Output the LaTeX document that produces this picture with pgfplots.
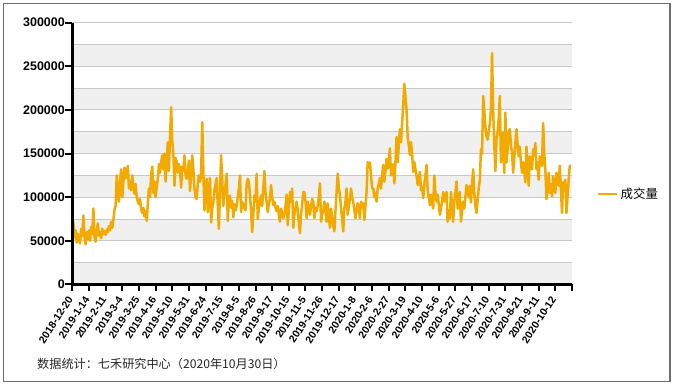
\documentclass[border=0pt]{standalone}
\usepackage{pgfplots}
\pgfplotsset{compat=1.18}
\usepackage{fontspec}
\setmainfont{Liberation Sans}
\newfontfamily\cjk{Noto Sans CJK SC}
\definecolor{lineor}{RGB}{242,169,0}
\definecolor{bandgray}{RGB}{240,240,240}
\definecolor{gridgray}{RGB}{200,200,200}
\definecolor{framegray}{RGB}{110,110,110}
\pgfplotsset{base/.style={at={(72.3bp,102.5bp)}, anchor=south west,
  scale only axis, width=499.7bp, height=261.8bp,
  xmin=0, xmax=450, ymin=0, ymax=300000}}
\begin{document}
\begin{tikzpicture}
\useasboundingbox (0,0) rectangle (674bp,387bp);
\draw[framegray, line width=1.1bp] (3.5bp,5.3bp) rectangle (670bp,383.5bp);
\begin{axis}[base, hide axis]
\fill[bandgray] (axis cs:0,0) rectangle (axis cs:450,25000);
\fill[bandgray] (axis cs:0,50000) rectangle (axis cs:450,75000);
\fill[bandgray] (axis cs:0,100000) rectangle (axis cs:450,125000);
\fill[bandgray] (axis cs:0,150000) rectangle (axis cs:450,175000);
\fill[bandgray] (axis cs:0,200000) rectangle (axis cs:450,225000);
\fill[bandgray] (axis cs:0,250000) rectangle (axis cs:450,275000);
\draw[gridgray, line width=1bp] (axis cs:0,25000) -- (axis cs:450,25000);
\draw[gridgray, line width=1bp] (axis cs:0,50000) -- (axis cs:450,50000);
\draw[gridgray, line width=1bp] (axis cs:0,75000) -- (axis cs:450,75000);
\draw[gridgray, line width=1bp] (axis cs:0,100000) -- (axis cs:450,100000);
\draw[gridgray, line width=1bp] (axis cs:0,125000) -- (axis cs:450,125000);
\draw[gridgray, line width=1bp] (axis cs:0,150000) -- (axis cs:450,150000);
\draw[gridgray, line width=1bp] (axis cs:0,175000) -- (axis cs:450,175000);
\draw[gridgray, line width=1bp] (axis cs:0,200000) -- (axis cs:450,200000);
\draw[gridgray, line width=1bp] (axis cs:0,225000) -- (axis cs:450,225000);
\draw[gridgray, line width=1bp] (axis cs:0,250000) -- (axis cs:450,250000);
\draw[gridgray, line width=1bp] (axis cs:0,275000) -- (axis cs:450,275000);
\draw[gridgray, line width=1bp] (axis cs:0,300000) -- (axis cs:450,300000);
\end{axis}
\begin{axis}[
  base, clip=false,
  axis x line*=bottom, axis y line*=left,
  axis line style={draw=none},
  xtick={0,15,...,435},
  xticklabels={2018-12-20,2019-1-14,2019-2-11,2019-3-4,2019-3-25,2019-4-16,2019-5-10,2019-5-31,2019-6-24,2019-7-15,2019-8-5,2019-8-26,2019-9-17,2019-10-15,2019-11-5,2019-11-26,2019-12-17,2020-1-8,2020-2-6,2020-2-27,2020-3-19,2020-4-10,2020-5-6,2020-5-27,2020-6-17,2020-7-10,2020-7-31,2020-8-21,2020-9-11,2020-10-12},
  ytick={0,50000,100000,150000,200000,250000,300000},
  yticklabels={0,50000,100000,150000,200000,250000,300000},
  scaled y ticks=false,
  xtick style={draw=none}, ytick style={draw=none},
  xticklabel shift=10bp,
  xticklabel style={font=\bfseries\fontsize{10.5}{12}\selectfont, rotate=57, anchor=east},
  yticklabel style={font=\bfseries\fontsize{12.5}{14}\selectfont, xshift=-4bp},
  legend style={at={(1.044,0.346)}, anchor=west, draw=none, fill=none, font=\fontsize{12.5}{14}\selectfont},
  legend image code/.code={\draw[#1, line width=2.5bp] (0bp,0bp) -- (14bp,0bp); \path (0bp,0bp) -- (19bp,0bp);},
]
\addplot[lineor, line width=2.5bp, line join=round, mark=none] coordinates {
(0,78000)(1,70000)(2,54000)(3,62000)(4,48000)(5,58000)(6,52000)(7,47000)(8,64000)(9,56000)(10,79000)(11,55000)(12,46000)(13,60000)(14,52000)
(15,62000)(16,50000)(17,66000)(18,58000)(19,87000)(20,55000)(21,49000)(22,62000)(23,70000)(24,56000)(25,60000)(26,53000)(27,64000)(28,58000)(29,61000)
(30,57000)(31,63000)(32,60000)(33,67000)(34,62000)(35,72000)(36,65000)(37,74000)(38,86000)(39,90000)(40,125000)(41,108000)(42,95000)(43,118000)(44,132000)
(45,100000)(46,118000)(47,134000)(48,122000)(49,128000)(50,136000)(51,110000)(52,118000)(53,108000)(54,125000)(55,112000)(56,104000)(57,115000)(58,100000)(59,95000)
(60,92000)(61,98000)(62,86000)(63,82000)(64,88000)(65,78000)(66,84000)(67,73000)(68,92000)(69,110000)(70,100000)(71,126000)(72,135000)(73,105000)(74,118000)
(75,100000)(76,112000)(77,120000)(78,138000)(79,128000)(80,140000)(81,148000)(82,132000)(83,150000)(84,118000)(85,142000)(86,163000)(87,130000)(88,170000)(89,203000)
(90,165000)(91,150000)(92,113000)(93,145000)(94,140000)(95,128000)(96,138000)(97,132000)(98,111000)(99,135000)(100,130000)(101,148000)(102,125000)(103,121000)(104,130000)
(105,142000)(106,107000)(107,125000)(108,148000)(109,132000)(110,110000)(111,100000)(112,98000)(113,115000)(114,125000)(115,118000)(116,125000)(117,186000)(118,130000)(119,85000)
(120,110000)(121,121000)(122,83000)(123,100000)(124,122000)(125,71000)(126,88000)(127,94000)(128,108000)(129,115000)(130,122000)(131,90000)(132,64000)(133,105000)(134,148000)
(135,120000)(136,90000)(137,105000)(138,115000)(139,127000)(140,73000)(141,95000)(142,102000)(143,88000)(144,96000)(145,77000)(146,92000)(147,85000)(148,90000)(149,100000)
(150,110000)(151,125000)(152,83000)(153,95000)(154,88000)(155,92000)(156,85000)(157,115000)(158,121000)(159,118000)(160,102000)(161,85000)(162,60000)(163,80000)(164,102000)
(165,95000)(166,127000)(167,75000)(168,88000)(169,95000)(170,102000)(171,90000)(172,110000)(173,130000)(174,105000)(175,95000)(176,83000)(177,92000)(178,99000)(179,114000)
(180,100000)(181,91000)(182,95000)(183,88000)(184,84000)(185,90000)(186,80000)(187,72000)(188,87000)(189,82000)(190,76000)(191,80000)(192,90000)(193,103000)(194,68000)
(195,85000)(196,106000)(197,95000)(198,110000)(199,65000)(200,80000)(201,88000)(202,95000)(203,85000)(204,70000)(205,59000)(206,80000)(207,92000)(208,106000)(209,106000)
(210,95000)(211,76000)(212,95000)(213,88000)(214,80000)(215,90000)(216,98000)(217,95000)(218,76000)(219,88000)(220,84000)(221,90000)(222,100000)(223,116000)(224,72000)
(225,80000)(226,84000)(227,95000)(228,85000)(229,72000)(230,93000)(231,80000)(232,65000)(233,87000)(234,78000)(235,67000)(236,61000)(237,85000)(238,106000)(239,127000)
(240,110000)(241,103000)(242,87000)(243,75000)(244,61000)(245,87000)(246,95000)(247,110000)(248,80000)(249,90000)(250,97000)(251,110000)(252,100000)(253,95000)(254,85000)
(255,76000)(256,85000)(257,93000)(258,88000)(259,76000)(260,95000)(261,90000)(262,93000)(263,74000)(264,90000)(265,106000)(266,140000)(267,135000)(268,140000)(269,125000)
(270,110000)(271,110000)(272,100000)(273,105000)(274,95000)(275,110000)(276,115000)(277,122000)(278,110000)(279,125000)(280,137000)(281,118000)(282,130000)(283,144000)(284,133000)
(285,140000)(286,156000)(287,125000)(288,130000)(289,138000)(290,116000)(291,140000)(292,169000)(293,140000)(294,160000)(295,178000)(296,163000)(297,185000)(298,205000)(299,230000)
(300,215000)(301,201000)(302,169000)(303,160000)(304,148000)(305,163000)(306,150000)(307,129000)(308,140000)(309,132000)(310,125000)(311,114000)(312,120000)(313,129000)(314,108000)
(315,112000)(316,99000)(317,114000)(318,125000)(319,137000)(320,108000)(321,100000)(322,91000)(323,103000)(324,95000)(325,87000)(326,125000)(327,105000)(328,95000)(329,103000)
(330,92000)(331,80000)(332,87000)(333,95000)(334,106000)(335,95000)(336,100000)(337,106000)(338,72000)(339,85000)(340,76000)(341,106000)(342,90000)(343,72000)(344,95000)
(345,105000)(346,118000)(347,87000)(348,95000)(349,106000)(350,72000)(351,85000)(352,95000)(353,87000)(354,100000)(355,114000)(356,110000)(357,100000)(358,113000)(359,94000)
(360,115000)(361,132000)(362,105000)(363,90000)(364,82000)(365,97000)(366,110000)(367,120000)(368,155000)(369,150000)(370,216000)(371,200000)(372,180000)(373,170000)(374,166000)
(375,175000)(376,185000)(377,200000)(378,265000)(379,200000)(380,160000)(381,130000)(382,166000)(383,175000)(384,190000)(385,216000)(386,140000)(387,160000)(388,174000)(389,128000)
(390,197000)(391,140000)(392,155000)(393,174000)(394,178000)(395,160000)(396,151000)(397,128000)(398,145000)(399,162000)(400,178000)(401,160000)(402,147000)(403,158000)(404,140000)
(405,128000)(406,140000)(407,130000)(408,117000)(409,158000)(410,135000)(411,113000)(412,147000)(413,140000)(414,132000)(415,155000)(416,148000)(417,162000)(418,132000)(419,140000)
(420,120000)(421,147000)(422,140000)(423,136000)(424,185000)(425,150000)(426,132000)(427,98000)(428,110000)(429,128000)(430,105000)(431,115000)(432,101000)(433,124000)(434,110000)
(435,105000)(436,128000)(437,120000)(438,113000)(439,136000)(440,110000)(441,82000)(442,117000)(443,110000)(444,120000)(445,82000)(446,100000)(447,120000)(448,136000)(449,136000)
};
\addlegendentry{\cjk 成交量}
\draw[black, line width=2.5bp] (axis cs:0,300000) -- (axis cs:0,0) -- (axis cs:450,0);
\pgfplotsinvokeforeach{0,50000,100000,150000,200000,250000,300000}{\draw[black, line width=2bp] (axis cs:0,#1) -- ++(-7bp,0bp);}
\pgfplotsinvokeforeach{0,15,...,450}{\draw[black, line width=2bp] (axis cs:#1,0) -- ++(0bp,-7bp);}
\end{axis}
\node[anchor=west, inner sep=0pt, text=black!85, font=\cjk\fontsize{12.2}{14}\selectfont] at (37bp,23bp) {数据统计：七禾研究中心（2020年10月30日）};
\end{tikzpicture}
\end{document}
